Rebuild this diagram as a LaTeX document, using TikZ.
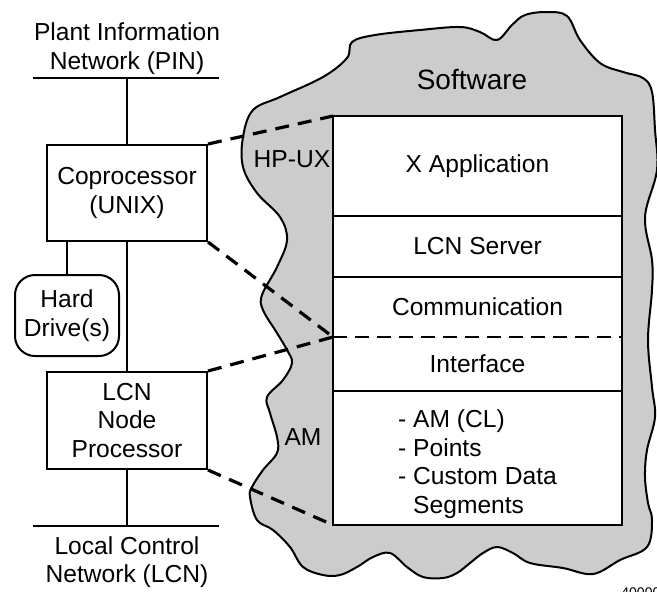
\documentclass[tikz,border=0pt]{standalone}
\usepackage{fontspec}
\setmainfont{Liberation Sans}
\usetikzlibrary{positioning}

\begin{document}
\begin{tikzpicture}[x=0.5pt, y=-0.5pt,
    every node/.style={font=\fontsize{12.3}{14.3}\selectfont, inner sep=0pt},
    box/.style={draw, line width=1pt, minimum width=80pt, align=center},
    layer/.style={fill=white, minimum width=144.5pt, align=center, outer sep=0pt},
    net/.style={line width=1pt},
    link/.style={line width=1.6pt, dash pattern=on 7pt off 4.5pt},
    sepdash/.style={line width=0.8pt, dash pattern=on 7pt off 4pt}]
    \useasboundingbox (0,0) rectangle (657,591);

    %nuvola software
    \draw[line width=1pt, fill=black!20] plot[smooth cycle, tension=0.6] coordinates {
      (243,137) (253,110) (280,97) (323,77) (347,58) (352,42) (375,35) (420,30)
      (460,27) (480,32) (497,40) (512,25) (525,15) (547,12) (567,16) (580,40)
      (600,63) (623,72) (643,78) (652,92) (655,130) (657,170) (645,217) (652,260)
      (652,290) (648,340) (652,387) (655,417) (647,450) (645,477) (648,503) (652,520)
      (647,547) (620,560) (593,574) (563,568) (530,563) (513,553) (497,547) (483,553)
      (470,563) (457,573) (443,578) (423,577) (407,567) (390,553) (373,557) (357,567)
      (340,575) (323,575) (303,567) (290,547) (273,530) (257,520) (250,497) (252,487)
      (263,470) (277,453) (277,437) (270,413) (267,397) (283,380) (292,363) (287,350)
      (277,333) (263,310) (262,295) (277,267) (287,240) (280,217) (257,193) (243,167)};
    \node[font=\fontsize{14}{16}\selectfont] (software) at (472,79) {Software};
    \node (hpux) at (292,159) {HP-UX};
    \node (am) at (303,437.5) {AM};

    %strati
    \node[layer, minimum height=50pt] (xapp) at (477.5,166) {X Application};
    \node[layer, minimum height=30.5pt, below=0pt of xapp] (lcnsrv) {LCN Server};
    \node[layer, minimum height=30pt, below=0pt of lcnsrv] (comm) {Communication};
    \node[layer, minimum height=27pt, below=0pt of comm] (iface) {Interface};
    \node[layer, minimum height=67pt, below=0pt of iface] (amlayer) {};
    \node[align=left, yshift=-3pt] (amlist) at (amlayer)
      {- AM (CL)\\- Points\\- Custom Data\\\phantom{- }Segments};
    \draw[line width=1pt] (xapp.north west) rectangle (amlayer.south east);
    \draw[line width=1pt] (xapp.south west) -- (xapp.south east);
    \draw[line width=1pt] (lcnsrv.south west) -- (lcnsrv.south east);
    \draw[sepdash] (comm.south west) -- (comm.south east);
    \draw[line width=1pt] (iface.south west) -- (iface.south east);

    %rete PIN
    \coordinate (pinL) at (33,78);
    \coordinate (pinR) at (219,78);
    \coordinate (pin) at (127,78);
    \draw[net] (pinL) -- (pinR);
    \node[above=1.5pt of pin, align=center] (pintext) {Plant Information\\Network (PIN)};

    \node[box, minimum height=48pt] (copro) at (127,193) {Coprocessor\\(UNIX)};
    \node[draw, line width=1pt, rounded corners=10pt, minimum width=52pt, minimum height=40.5pt,
      align=center] (hdd) at (67,315.5) {Hard\\Drive(s)};
    \node[box, minimum height=48.5pt] (lcnp) at (127,420.5) {LCN\\Node\\Processor};

    %rete LCN
    \coordinate (lcnL) at (33,526);
    \coordinate (lcnR) at (219,526);
    \coordinate (lcn) at (127,526);
    \draw[net] (lcnL) -- (lcnR);
    \node[below=5pt of lcn, align=center] (lcntext) {Local Control\\Network (LCN)};

    \draw[net] (pin) -- (copro);
    \draw[net] (copro) -- (lcnp);
    \draw[net] (hdd) -- (hdd |- copro.south);
    \draw[net] (lcnp) -- (lcn);

    %linee tratteggiate
    \draw[link] (copro.north east) -- (xapp.north west);
    \draw[link] (copro.south east) -- (comm.south west);
    \draw[link] (lcnp.north east) -- (comm.south west);
    \draw[link] (lcnp.south east) -- (amlayer.south west);

    \node[anchor=base west, font=\fontsize{7}{8}\selectfont] (fignum) at (621,597) {40000};
\end{tikzpicture}
\end{document}
